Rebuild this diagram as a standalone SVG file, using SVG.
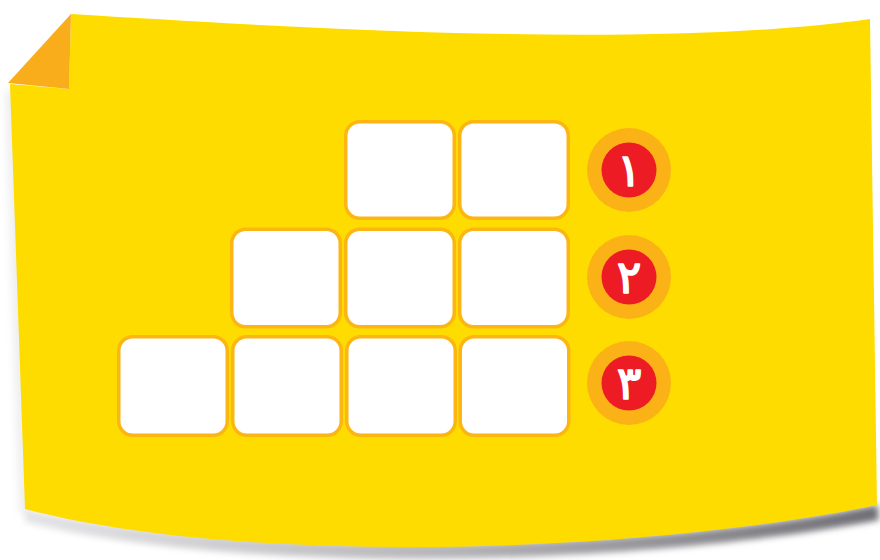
<svg xmlns="http://www.w3.org/2000/svg" width="880" height="560" viewBox="0 0 880 560">
  <defs>
    <style>
      .cell { fill: #ffffff; stroke: #FBB614; stroke-width: 3.5; }
      .ring { fill: #FBB216; }
      .dot { fill: #ED1C24; }
      .num { fill: #ffffff; stroke: #ffffff; stroke-width: 1.6; stroke-linejoin: round; font-family: "DejaVu Sans", "Noto Sans", sans-serif; font-weight: normal; font-size: 46px; text-anchor: middle; }
    </style>
    <linearGradient id="shadowGrad" x1="0" y1="0" x2="1" y2="0">
      <stop offset="0" stop-color="#e4e4e6"/>
      <stop offset="0.5" stop-color="#b4b4b8"/>
      <stop offset="1" stop-color="#6e6e74"/>
    </linearGradient>
    <filter id="blur" x="-10%" y="-50%" width="120%" height="200%">
      <feGaussianBlur stdDeviation="3"/>
    </filter>
    <filter id="blurSoft" x="-50%" y="-10%" width="200%" height="120%">
      <feGaussianBlur stdDeviation="4"/>
    </filter>
  </defs>

  <rect width="880" height="560" fill="#ffffff"/>

  <g id="paper">
    <path d="M6,90 L20,512 L30,515 L16,90 Z" fill="#d8d8dc" opacity="0.5" filter="url(#blurSoft)"/>
    <path d="M877,500 L879,520 C650,564 250,578 25,522 L25,509 C250,560 650,552 877,505 Z" fill="url(#shadowGrad)" filter="url(#blur)"/>
    <path d="M71,14 C300,28 650,50 870,19 L877,505 C650,552 250,568 25,509 L10,84 L69,89 Z" fill="#FEDC00"/>
    <path d="M71,14 L8,83 L69,89 Z" fill="#F9AD1B"/>
  </g>

  <g id="row1">
    <rect class="cell" x="345.75" y="121.75" width="108.5" height="96.5" rx="14"/>
    <rect class="cell" x="459.75" y="121.75" width="108.5" height="96.5" rx="14"/>
  </g>
  <g id="row2">
    <rect class="cell" x="231.75" y="229.25" width="108.5" height="97.5" rx="14"/>
    <rect class="cell" x="345.75" y="229.25" width="108.5" height="97.5" rx="14"/>
    <rect class="cell" x="459.75" y="229.25" width="108.5" height="97.5" rx="14"/>
  </g>
  <g id="row3">
    <rect class="cell" x="118.75" y="336.75" width="108.5" height="98.5" rx="14"/>
    <rect class="cell" x="232.75" y="336.75" width="108.5" height="98.5" rx="14"/>
    <rect class="cell" x="346.75" y="336.75" width="108.5" height="98.5" rx="14"/>
    <rect class="cell" x="460.25" y="336.75" width="108.5" height="98.5" rx="14"/>
  </g>

  <g id="badge1">
    <circle class="ring" cx="629" cy="170" r="42"/>
    <circle class="dot" cx="629" cy="170" r="27.5"/>
    <text class="num" x="629" y="186">۱</text>
  </g>
  <g id="badge2">
    <circle class="ring" cx="629" cy="277" r="42"/>
    <circle class="dot" cx="629" cy="277" r="27.5"/>
    <text class="num" x="629" y="293">۲</text>
  </g>
  <g id="badge3">
    <circle class="ring" cx="629" cy="383" r="42"/>
    <circle class="dot" cx="629" cy="383" r="27.5"/>
    <text class="num" x="629" y="399">۳</text>
  </g>

  <g id="connectors"></g>
</svg>
